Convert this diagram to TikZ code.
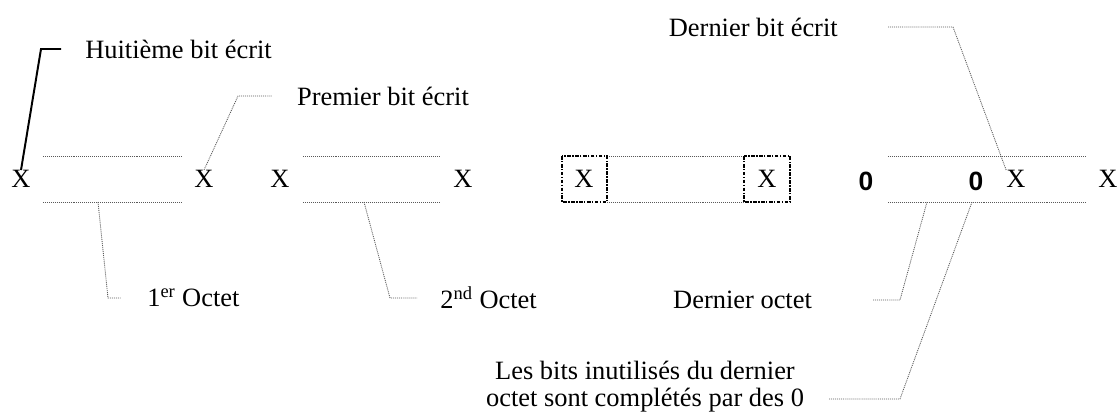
\documentclass[tikz,border=0pt]{standalone}
\usepackage{fontspec}
\setmainfont{Liberation Serif}
\newfontfamily\zerofont{Liberation Sans}
\usetikzlibrary{positioning}

\begin{document}
\begin{tikzpicture}
		[x=0.025cm,y=-0.025cm,
		bit/.style={inner sep=0pt,font=\fontsize{18.8}{19.2}\selectfont},
		zero/.style={inner sep=0pt,font=\zerofont\bfseries\fontsize{18.8}{19.2}\selectfont},
		note/.style={inner sep=0pt,font=\fontsize{18.8}{19.2}\selectfont},
		wire/.style={draw=black!65,line width=0.6pt,dash pattern=on 0.7pt off 0.7pt},
		frame/.style={draw=black,line width=1.1pt,dash pattern=on 2.6pt off 1pt on 1pt off 1pt}]
		\useasboundingbox (0,0) rectangle (1120,416);

		% bits
		\node [bit] (x1) at (21,179) {X};
		\node [bit] (x2) at (204,179) {X};
		\node [bit] (x3) at (280,179) {X};
		\node [bit] (x4) at (463,179) {X};
		\node [bit] (x5) at (584,179) {X};
		\node [bit] (x6) at (767,179) {X};
		\node [zero] (z1) at (866,181) {0};
		\node [zero] (z2) at (976,181) {0};
		\node [bit] (x7) at (1016,179) {X};
		\node [bit] (x8) at (1108,179) {X};

		% octets
		\foreach \a/\b in {43/181,303/439,607/744,888/1086}
		{
			\draw [wire] (\a,156) -- (\b,156);
			\draw [wire] (\a,202) -- (\b,202);
		}
		\draw [frame] (562,156) rectangle (607,202);
		\draw [frame] (744,156) rectangle (790,202);

		% leaders
		\coordinate (h1) at (41,49);
		\coordinate (h2) at (61,49);
		\node [note,right=0.6cm of h2] (huit) {Huitième bit écrit};
		\draw [line width=1.4pt] (x1.north) -- (h1) -- (h2);

		\coordinate (p1) at (238,96);
		\coordinate (p2) at (272,96);
		\node [note,right=0.62cm of p2] (prem) {Premier bit écrit};
		\draw [wire] (x2.north) -- (p1) -- (p2);

		\coordinate (d1) at (888,27);
		\coordinate (d2) at (953,27);
		\node [note,left=1.25cm of d1] (dbit) {Dernier bit écrit};
		\draw [wire] (d1) -- (d2) -- (x7.north west);

		\coordinate (a1) at (98,202);
		\coordinate (a2) at (108,298);
		\coordinate (a3) at (121,298);
		\node [note,right=0.65cm of a3] (oct1) {1\textsuperscript{er} Octet};
		\draw [wire] (a1) -- (a2) -- (a3);

		\coordinate (b1) at (364,202);
		\coordinate (b2) at (390,298);
		\coordinate (b3) at (417,298);
		\node [note,right=0.58cm of b3] (oct2) {2\textsuperscript{nd} Octet};
		\draw [wire] (b1) -- (b2) -- (b3);

		\coordinate (o1) at (873,300);
		\coordinate (o2) at (900,300);
		\coordinate (o3) at (927,202);
		\node [note,left=1.52cm of o1] (doct) {Dernier octet};
		\draw [wire] (o1) -- (o2) -- (o3);

		\coordinate (u1) at (829,399);
		\coordinate (u2) at (900,399);
		\coordinate (u3) at (972,202);
		\node [note,align=center] (unused) at (645,387) {Les bits inutilisés du dernier\\octet sont complétés par des 0};
		\draw [wire] (u1) -- (u2) -- (u3);

	\end{tikzpicture}
\end{document}
